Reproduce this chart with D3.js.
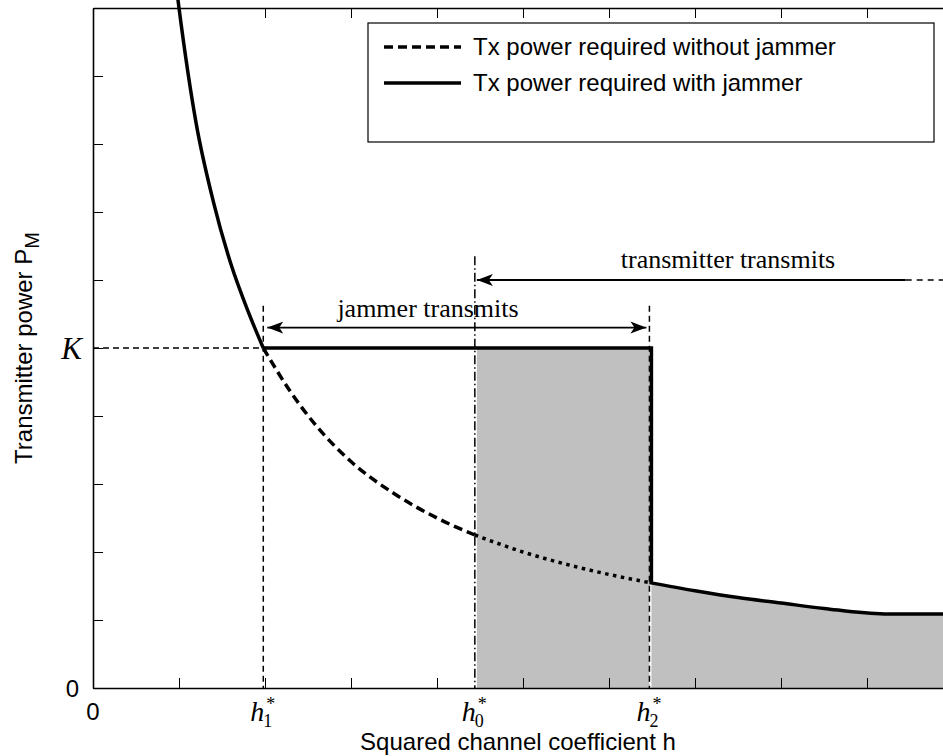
<!DOCTYPE html>
<html lang="en">
<meta charset="utf-8">

<head>
    <style>
        body {
            margin: 0;
            background: #fff;
        }
        svg {
            display: block;
        }
        .sans {
            font-family: "Liberation Sans", Arial, sans-serif;
        }
        .serif {
            font-family: "Liberation Serif", "Times New Roman", serif;
        }
    </style>
    <script src="https://cdn.jsdelivr.net/npm/d3@7"></script>
</head>

<body>

</body>
<script>
    // data
    var hValues = [0.96, 1.0, 1.2, 1.4, 1.6, 1.8, 1.98, 2.3, 2.6, 3.0, 3.5, 4.0, 4.44, 5.0, 5.5, 6.0, 6.47, 7.0, 7.5, 8.0, 8.5, 9.2, 10.0];
    var pNoJammer = [10.4, 10.0, 8.3, 7.15, 6.25, 5.55, 5.0, 4.35, 3.85, 3.33, 2.86, 2.5, 2.25, 2.0, 1.82, 1.67, 1.55, 1.43, 1.33, 1.25, 1.17, 1.09, 1.09];
    var hStar = [1.98, 4.44, 6.47]; // h1*, h0*, h2*
    var hStarSub = ["1", "0", "2"];
    var K = 5;
    var xTicks = d3.range(0, 10);
    var yTicks = d3.range(0, 11);
    var legendLabels = ["Tx power required without jammer", "Tx power required with jammer"];

    var svgWidth = 943;
    var svgHeight = 756;

    var x = d3.scaleLinear().domain([0, 10]).range([93, 953]);
    var y = d3.scaleLinear().domain([0, 10]).range([688, 8]);

    var h1 = hStar[0], h0 = hStar[1], h2 = hStar[2];

    var pts = hValues.map(function (h, i) {
        return { h: h, p: pNoJammer[i] };
    });
    var pAt = function (h) {
        return pts.find(function (d) { return d.h === h; }).p;
    };

    var svg = d3.select("body")
        .append("svg")
        .attr("width", svgWidth)
        .attr("height", svgHeight);

    var line = d3.line()
        .x(function (d) { return x(d.h); })
        .y(function (d) { return y(d.p); })
        .curve(d3.curveMonotoneX);

    // grey regions
    svg.append("rect")
        .attr("x", x(h0) + 2)
        .attr("y", y(K))
        .attr("width", x(h2) - x(h0) - 2)
        .attr("height", y(0) - y(K))
        .attr("fill", "#c0c0c0");

    var tail = pts.filter(function (d) { return d.h >= h2; });
    svg.append("path")
        .datum(tail)
        .attr("d", d3.area()
            .x(function (d) { return x(d.h) + (d.h === h2 ? 2 : 0); })
            .y0(y(0))
            .y1(function (d) { return y(d.p) + 1; })
            .curve(d3.curveMonotoneX))
        .attr("fill", "#c0c0c0");

    // axes, ticks inside
    svg.append("g")
        .attr("transform", "translate(0," + y(0) + ")")
        .call(d3.axisBottom(x).tickValues(xTicks).tickSizeInner(-10).tickSizeOuter(0).tickFormat(""));
    svg.append("g")
        .attr("transform", "translate(0," + y(10) + ")")
        .call(d3.axisTop(x).tickValues(xTicks).tickSizeInner(-10).tickSizeOuter(0).tickFormat(""));
    svg.append("g")
        .attr("transform", "translate(" + x(0) + ",0)")
        .call(d3.axisLeft(y).tickValues(yTicks).tickSizeInner(-10).tickSizeOuter(0).tickFormat(""));
    svg.selectAll(".domain").attr("stroke-width", 1.6);
    svg.selectAll(".tick line").attr("stroke-width", 1);

    // guide lines
    svg.append("line")
        .attr("x1", x(0)).attr("x2", x(h1))
        .attr("y1", y(K)).attr("y2", y(K))
        .attr("stroke", "#000").attr("stroke-width", 1.3)
        .attr("stroke-dasharray", "6,4");
    svg.append("line")
        .attr("x1", x(h1)).attr("x2", x(h1))
        .attr("y1", y(5.62)).attr("y2", y(0))
        .attr("stroke", "#000").attr("stroke-width", 1.5)
        .attr("stroke-dasharray", "6,4");
    svg.append("line")
        .attr("x1", x(h2)).attr("x2", x(h2))
        .attr("y1", y(5.62)).attr("y2", y(0))
        .attr("stroke", "#000").attr("stroke-width", 1.5)
        .attr("stroke-dasharray", "6,4");
    svg.append("line")
        .attr("x1", x(h0)).attr("x2", x(h0))
        .attr("y1", y(6.35)).attr("y2", y(0))
        .attr("stroke", "#000").attr("stroke-width", 1.5)
        .attr("stroke-dasharray", "9,3,1.5,3");

    // without jammer: dashed then dotted
    svg.append("path")
        .datum(pts.filter(function (d) { return d.h >= h1 && d.h <= h0; }))
        .attr("d", line)
        .attr("fill", "none").attr("stroke", "#000").attr("stroke-width", 3.5)
        .attr("stroke-dasharray", "9,5");
    svg.append("path")
        .datum(pts.filter(function (d) { return d.h >= h0 && d.h <= h2; }))
        .attr("d", line)
        .attr("fill", "none").attr("stroke", "#000").attr("stroke-width", 3.5)
        .attr("stroke-dasharray", "3.5,4.5");

    // with jammer: solid
    svg.append("path")
        .datum(pts.filter(function (d) { return d.h <= h1; }))
        .attr("d", line)
        .attr("fill", "none").attr("stroke", "#000").attr("stroke-width", 3.5);
    svg.append("path")
        .attr("d", d3.line()([[x(h1), y(K)], [x(h2) + 2, y(K)], [x(h2) + 2, y(pAt(h2))]]))
        .attr("fill", "none").attr("stroke", "#000").attr("stroke-width", 3.5)
        .attr("stroke-linejoin", "miter");
    svg.append("path")
        .datum(tail)
        .attr("d", line)
        .attr("fill", "none").attr("stroke", "#000").attr("stroke-width", 3.5);

    // arrow heads (tip at the line end)
    var defs = svg.append("defs");
    defs.append("marker")
        .attr("id", "head")
        .attr("markerUnits", "userSpaceOnUse")
        .attr("viewBox", "-16 -7 16 14")
        .attr("refX", 0).attr("refY", 0)
        .attr("markerWidth", 16).attr("markerHeight", 14)
        .attr("orient", "auto-start-reverse")
        .append("path")
        .attr("d", "M0,0 L-16,-6 L-12,0 L-16,6 Z")
        .attr("fill", "#000");

    // jammer transmits
    svg.append("line")
        .attr("x1", x(h1) + 4).attr("x2", x(h2) - 3)
        .attr("y1", y(5.3)).attr("y2", y(5.3))
        .attr("stroke", "#000").attr("stroke-width", 1.6)
        .attr("marker-start", "url(#head)")
        .attr("marker-end", "url(#head)");
    svg.append("text")
        .attr("class", "serif")
        .attr("x", 428)
        .attr("y", y(5.46))
        .attr("text-anchor", "middle")
        .attr("font-size", 26)
        .text("jammer transmits");

    // transmitter transmits
    svg.append("line")
        .attr("x1", x(h0) + 2).attr("x2", x(9.45))
        .attr("y1", y(6.0)).attr("y2", y(6.0))
        .attr("stroke", "#000").attr("stroke-width", 1.8)
        .attr("marker-start", "url(#head)");
    svg.append("line")
        .attr("x1", x(9.45)).attr("x2", x(10))
        .attr("y1", y(6.0)).attr("y2", y(6.0))
        .attr("stroke", "#000").attr("stroke-width", 1.4)
        .attr("stroke-dasharray", "6,5");
    svg.append("text")
        .attr("class", "serif")
        .attr("x", 728)
        .attr("y", y(6.18))
        .attr("text-anchor", "middle")
        .attr("font-size", 26)
        .text("transmitter transmits");

    // tick labels
    svg.append("text").attr("class", "sans")
        .attr("x", x(0)).attr("y", 720)
        .attr("text-anchor", "middle").attr("font-size", 24)
        .text("0");
    svg.append("text").attr("class", "sans")
        .attr("x", 79).attr("y", y(0) + 9)
        .attr("text-anchor", "end").attr("font-size", 24)
        .text("0");
    svg.append("text").attr("class", "serif")
        .attr("x", 82).attr("y", y(K) + 11)
        .attr("text-anchor", "end").attr("font-size", 31)
        .attr("font-style", "italic")
        .text("K");

    hStar.forEach(function (h, i) {
        var t = svg.append("text")
            .attr("class", "serif")
            .attr("x", x(h) - 13).attr("y", 721);
        t.append("tspan")
            .attr("font-size", 28)
            .attr("font-style", "italic")
            .text("h");
        t.append("tspan")
            .attr("font-size", 18)
            .attr("dy", 6).attr("dx", -1)
            .text(hStarSub[i]);
        t.append("tspan")
            .attr("font-size", 18)
            .attr("dy", -17).attr("dx", -6)
            .text("*");
    });

    // axis titles
    svg.append("text").attr("class", "sans")
        .attr("x", 518).attr("y", 750)
        .attr("text-anchor", "middle").attr("font-size", 24)
        .text("Squared channel coefficient h");
    var yl = svg.append("text").attr("class", "sans")
        .attr("transform", "translate(32," + ((y(0) + y(10)) / 2) + ") rotate(-90)")
        .attr("text-anchor", "middle").attr("font-size", 24);
    yl.append("tspan").text("Transmitter power P");
    yl.append("tspan").attr("dy", 7).attr("font-size", 20).text("M");

    // legend
    var leg = svg.append("g");
    leg.append("rect")
        .attr("x", 368).attr("y", 23)
        .attr("width", 566).attr("height", 119)
        .attr("fill", "#fff").attr("stroke", "#000").attr("stroke-width", 1.2);
    legendLabels.forEach(function (t, i) {
        var ly = 47 + i * 36;
        leg.append("line")
            .attr("x1", 384).attr("x2", 461)
            .attr("y1", ly).attr("y2", ly)
            .attr("stroke", "#000").attr("stroke-width", 3.5)
            .attr("stroke-dasharray", i === 0 ? "9,5" : null);
        leg.append("text").attr("class", "sans")
            .attr("x", 473).attr("y", ly + 8)
            .attr("font-size", 24)
            .text(t);
    });
</script>

</html>
